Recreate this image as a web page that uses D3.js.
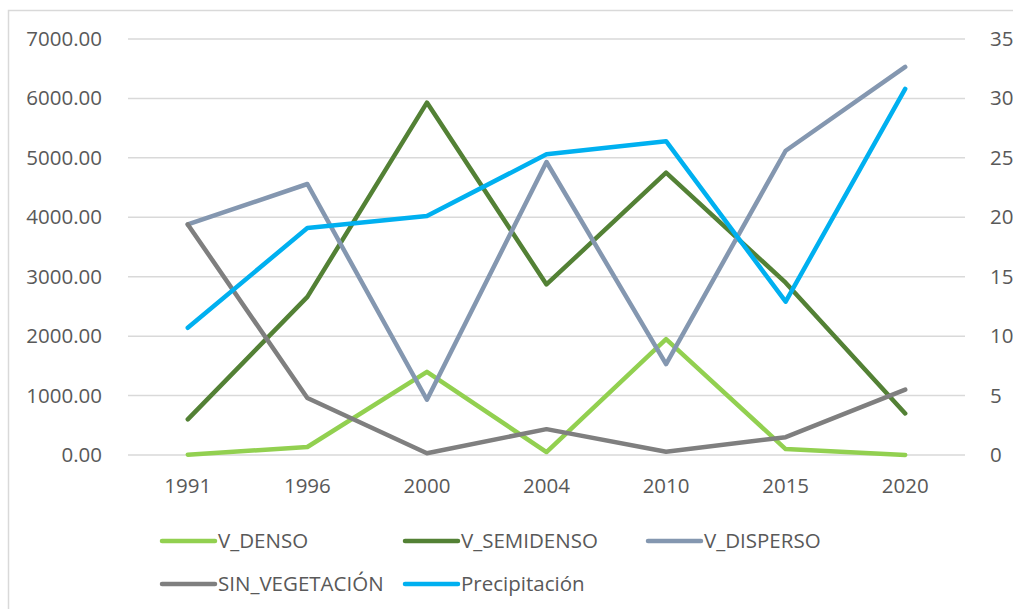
<!DOCTYPE html>
<html>
<head>
<meta charset="utf-8">
<script src="https://cdn.jsdelivr.net/npm/d3@7"></script>
<style>
  body { margin: 0; background: #fff; }
  text { font-family: "Open Sans", "Liberation Sans", sans-serif; fill: #595959; }
</style>
</head>
<body>
<div id="chart"></div>
<script>
const width = 1013;
const height = 609;

// data
const years = ["1991", "1996", "2000", "2004", "2010", "2015", "2020"];
const vDenso = [5, 135, 1400, 50, 1950, 100, 0];
const vSemidenso = [600, 2660, 5930, 2870, 4750, 2900, 700];
const vDisperso = [3880, 4560, 930, 4930, 1530, 5120, 6530];
const sinVegetacion = [3880, 960, 30, 435, 55, 300, 1100];
const precipitacion = [10.7, 19.1, 20.1, 25.3, 26.4, 12.9, 30.8];
const leftTicks = [0, 1000, 2000, 3000, 4000, 5000, 6000, 7000];
const rightTicks = [0, 5, 10, 15, 20, 25, 30, 35];

const series = [
  { name: "V_DENSO", values: vDenso, color: "#92d050", axis: "left" },
  { name: "V_SEMIDENSO", values: vSemidenso, color: "#538135", axis: "left" },
  { name: "V_DISPERSO", values: vDisperso, color: "#8497b0", axis: "left" },
  { name: "SIN_VEGETACIÓN", values: sinVegetacion, color: "#7f7f7f", axis: "left" },
  { name: "Precipitación", values: precipitacion, color: "#00b0f0", axis: "right" }
];

const margin = { left: 128, right: 48, top: 39, bottom: 154 };
const fontSize = "20.5px";

const svg = d3
  .select("#chart")
  .append("svg")
  .attr("width", width)
  .attr("height", height);

// chart frame
svg
  .append("rect")
  .attr("x", 8.5)
  .attr("y", 10.5)
  .attr("width", width + 10)
  .attr("height", height + 10)
  .attr("fill", "none")
  .attr("stroke", "#d9d9d9")
  .attr("stroke-width", 1.5);

const x = d3
  .scaleBand()
  .domain(years)
  .range([margin.left, width - margin.right]);

const yLeft = d3
  .scaleLinear()
  .domain([0, 7000])
  .range([height - margin.bottom, margin.top]);

const yRight = d3
  .scaleLinear()
  .domain([0, 35])
  .range([height - margin.bottom, margin.top]);

// gridlines
svg
  .append("g")
  .selectAll("line")
  .data(leftTicks)
  .enter()
  .append("line")
  .attr("x1", margin.left)
  .attr("x2", width - margin.right)
  .attr("y1", d => yLeft(d))
  .attr("y2", d => yLeft(d))
  .attr("stroke", "#d9d9d9")
  .attr("stroke-width", 1.5);

// left axis
const leftAxis = svg
  .append("g")
  .attr("transform", `translate(${margin.left},0)`)
  .call(
    d3
      .axisLeft(yLeft)
      .tickValues(leftTicks)
      .tickFormat(d3.format(".2f"))
      .tickSize(0)
      .tickPadding(26)
  );
leftAxis.select(".domain").remove();
leftAxis.selectAll("text").style("font-size", fontSize);

// right axis
const rightAxis = svg
  .append("g")
  .attr("transform", `translate(${width - margin.right},0)`)
  .call(d3.axisRight(yRight).tickValues(rightTicks).tickSize(0).tickPadding(25));
rightAxis.select(".domain").remove();
rightAxis.selectAll("text").style("font-size", fontSize);

// bottom axis
const bottomAxis = svg
  .append("g")
  .attr("transform", `translate(0,${height - margin.bottom})`)
  .call(d3.axisBottom(x).tickSize(0).tickPadding(23));
bottomAxis.select(".domain").remove();
bottomAxis.selectAll("text").style("font-size", fontSize);

// lines
const lineFor = s =>
  d3
    .line()
    .x((d, i) => x(years[i]) + x.bandwidth() / 2)
    .y(d => (s.axis === "left" ? yLeft(d) : yRight(d)));

series.forEach(s => {
  svg
    .append("path")
    .datum(s.values)
    .attr("d", lineFor(s))
    .attr("fill", "none")
    .attr("stroke", s.color)
    .attr("stroke-width", 4.5)
    .attr("stroke-linejoin", "round")
    .attr("stroke-linecap", "round");
});

// legend
const legendCols = [162, 405, 648];
const legendRows = [541, 584];
const legend = svg
  .selectAll(".legend")
  .data(series)
  .enter()
  .append("g")
  .attr("class", "legend")
  .attr(
    "transform",
    (d, i) => `translate(${legendCols[i % 3]},${legendRows[Math.floor(i / 3)]})`
  );

legend
  .append("line")
  .attr("x1", 0)
  .attr("x2", 53)
  .attr("stroke", d => d.color)
  .attr("stroke-width", 4.5)
  .attr("stroke-linecap", "round");

legend
  .append("text")
  .attr("x", 56)
  .attr("dy", "0.35em")
  .style("font-size", fontSize)
  .text(d => d.name);
</script>
</body>
</html>
